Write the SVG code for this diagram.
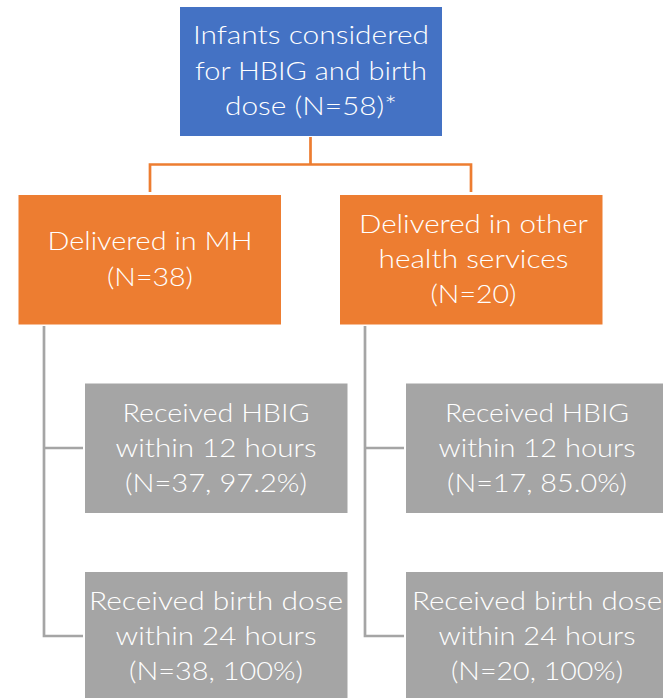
<svg xmlns="http://www.w3.org/2000/svg" width="663" height="698" viewBox="0 0 663 698">
<style>
.t{font-family:Lato,"Open Sans","Liberation Sans",sans-serif;font-weight:300;font-size:26px;fill:#ffffff;text-anchor:middle}
.blue{fill:#4472C4}
.orange{fill:#ED7D31}
.grey{fill:#A5A5A5}
.oc{stroke:#ED7D31;stroke-width:2.7;fill:none}
.gc{stroke:#A5A5A5;stroke-width:2.7;fill:none}
</style>
<rect width="663" height="698" fill="#ffffff"/>
<g id="connectors">
<path class="oc" d="M310.5,137 V164.5 M150,192 V164.5 H471 V192"/>
<path class="gc" d="M44,326 V636 H83 M44,448 H83"/>
<path class="gc" d="M365,326 V636 H404 M365,448 H404"/>
</g>
<g id="root">
<rect class="blue" x="180" y="7" width="262" height="129"/>
<text class="t" x="311" y="44" textLength="236" lengthAdjust="spacingAndGlyphs">Infants considered</text>
<text class="t" x="311" y="80" textLength="232" lengthAdjust="spacingAndGlyphs">for HBIG and birth</text>
<text class="t" x="311" y="115" textLength="172" lengthAdjust="spacingAndGlyphs">dose (N=58)*</text>
</g>
<g id="mh">
<rect class="orange" x="18.5" y="195" width="262.5" height="129.5"/>
<text class="t" x="150" y="250" textLength="205" lengthAdjust="spacingAndGlyphs">Delivered in MH</text>
<text class="t" x="150" y="286" textLength="86" lengthAdjust="spacingAndGlyphs">(N=38)</text>
</g>
<g id="other">
<rect class="orange" x="340" y="195" width="262.5" height="129.5"/>
<text class="t" x="473.5" y="233" textLength="229" lengthAdjust="spacingAndGlyphs">Delivered in other</text>
<text class="t" x="473.5" y="268" textLength="190" lengthAdjust="spacingAndGlyphs">health services</text>
<text class="t" x="473.5" y="303" textLength="86" lengthAdjust="spacingAndGlyphs">(N=20)</text>
</g>
<g id="mh-hbig">
<rect class="grey" x="85" y="383.5" width="262.5" height="129.5"/>
<text class="t" x="216" y="422" textLength="187" lengthAdjust="spacingAndGlyphs">Received HBIG</text>
<text class="t" x="216" y="457" textLength="201" lengthAdjust="spacingAndGlyphs">within 12 hours</text>
<text class="t" x="216" y="492" textLength="182" lengthAdjust="spacingAndGlyphs">(N=37, 97.2%)</text>
</g>
<g id="mh-dose">
<rect class="grey" x="85" y="572" width="262.5" height="130"/>
<text class="t" x="216" y="610" textLength="254" lengthAdjust="spacingAndGlyphs">Received birth dose</text>
<text class="t" x="216" y="645" textLength="201" lengthAdjust="spacingAndGlyphs">within 24 hours</text>
<text class="t" x="216" y="680" textLength="174" lengthAdjust="spacingAndGlyphs">(N=38, 100%)</text>
</g>
<g id="other-hbig">
<rect class="grey" x="406" y="383.5" width="262.5" height="129.5"/>
<text class="t" x="537" y="422" textLength="184" lengthAdjust="spacingAndGlyphs">Received HBIG</text>
<text class="t" x="537" y="457" textLength="197" lengthAdjust="spacingAndGlyphs">within 12 hours</text>
<text class="t" x="537" y="492" textLength="180" lengthAdjust="spacingAndGlyphs">(N=17, 85.0%)</text>
</g>
<g id="other-dose">
<rect class="grey" x="406" y="572" width="262.5" height="130"/>
<text class="t" x="537" y="610" textLength="250" lengthAdjust="spacingAndGlyphs">Received birth dose</text>
<text class="t" x="537" y="645" textLength="197" lengthAdjust="spacingAndGlyphs">within 24 hours</text>
<text class="t" x="537" y="680" textLength="172" lengthAdjust="spacingAndGlyphs">(N=20, 100%)</text>
</g>
</svg>
